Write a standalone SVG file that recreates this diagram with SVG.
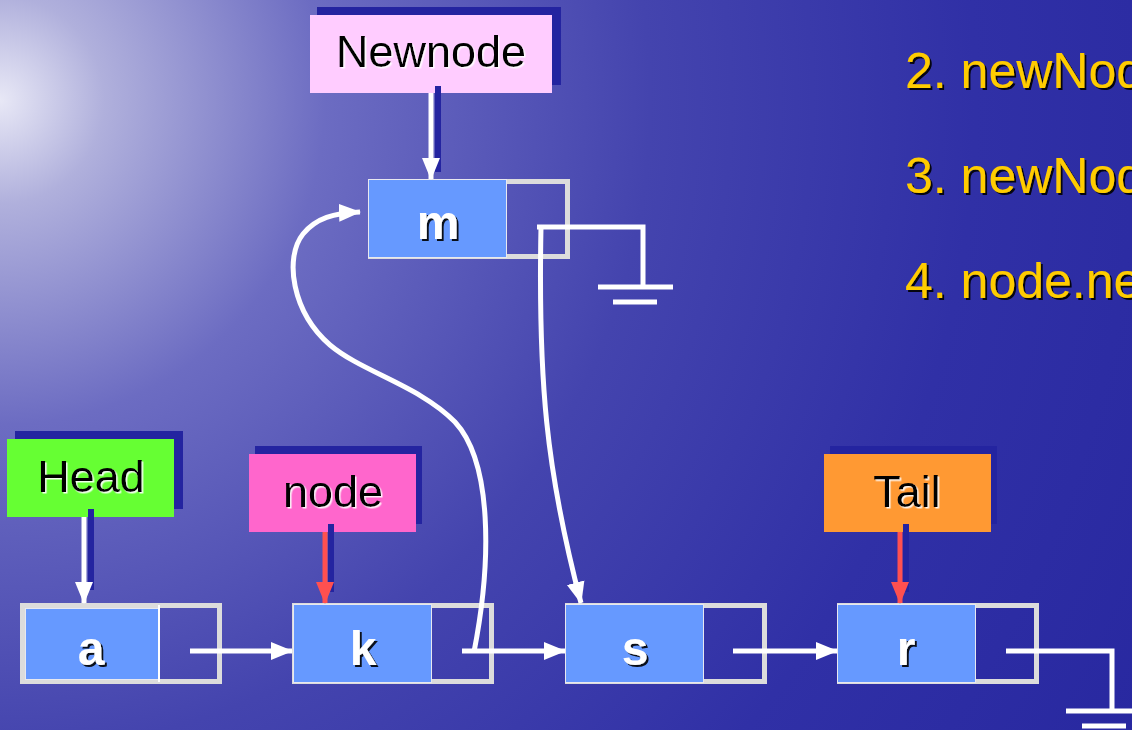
<svg xmlns="http://www.w3.org/2000/svg" width="1132" height="730" viewBox="0 0 1132 730">
<defs>
<radialGradient id="bg" cx="0" cy="100" r="1300" gradientUnits="userSpaceOnUse">
<stop offset="0" stop-color="#e8e8f6"/>
<stop offset="0.08" stop-color="#b0b0dc"/>
<stop offset="0.25" stop-color="#6c6cc2"/>
<stop offset="0.5" stop-color="#4444ae"/>
<stop offset="0.75" stop-color="#3030a6"/>
<stop offset="1" stop-color="#2828a0"/>
</radialGradient>
<marker id="wa" markerUnits="userSpaceOnUse" markerWidth="22" markerHeight="22" refX="21" refY="11" orient="auto" viewBox="0 0 22 22">
<path d="M0,2 L22,11 L0,20 z" fill="#ffffff"/>
</marker>
<marker id="ra" markerUnits="userSpaceOnUse" markerWidth="22" markerHeight="22" refX="21" refY="11" orient="auto" viewBox="0 0 22 22">
<path d="M0,2 L22,11 L0,20 z" fill="#ff5050"/>
</marker>
<filter id="ts" x="-20%" y="-20%" width="140%" height="140%">
<feDropShadow dx="2" dy="2" stdDeviation="0.6" flood-color="#000000" flood-opacity="0.9"/>
</filter>
<filter id="tw" x="-20%" y="-20%" width="140%" height="140%">
<feDropShadow dx="1.5" dy="1.5" stdDeviation="0.6" flood-color="#ffffff" flood-opacity="0.9"/>
</filter>
</defs>
<style>
.outer{fill:none;stroke:#dcdcdc;stroke-width:5}
.data{fill:#6699ff;stroke:#e8e8f0;stroke-width:1}
.val{font-family:"Liberation Sans",Arial,sans-serif;font-weight:bold;font-size:48px;fill:#ffffff;text-anchor:middle}
.lbl{font-family:"Liberation Sans",Arial,sans-serif;font-size:45px;fill:#000000;text-anchor:middle}
.shadow{fill:#2424a0}
.wl{fill:none;stroke:#ffffff;stroke-width:5}
.rl{fill:none;stroke:#ff5050;stroke-width:5}
.sl{fill:none;stroke:#2424a0;stroke-width:6}
.step{font-family:"Liberation Sans",Arial,sans-serif;font-size:50px;fill:#ffcc00}
</style>
<rect x="0" y="0" width="1132" height="730" fill="url(#bg)"/>

<g id="steps" filter="url(#ts)">
<text class="step" x="905" y="88">2. newNode</text>
<text class="step" x="905" y="193">3. newNode</text>
<text class="step" x="905" y="298">4. node.ne</text>
</g>

<g id="label-newnode">
<rect class="shadow" x="317" y="7" width="244" height="78"/>
<rect x="310" y="15" width="242" height="78" fill="#ffccff"/>
<text class="lbl" x="431" y="67" filter="url(#tw)">Newnode</text>
</g>
<g id="label-head">
<rect class="shadow" x="15" y="431" width="168" height="78"/>
<rect x="7" y="439" width="167" height="78" fill="#66ff33"/>
<text class="lbl" x="91" y="492" filter="url(#tw)">Head</text>
</g>
<g id="label-node">
<rect class="shadow" x="255" y="446" width="167" height="78"/>
<rect x="249" y="454" width="167" height="78" fill="#ff66cc"/>
<text class="lbl" x="333" y="507" filter="url(#tw)">node</text>
</g>
<g id="label-tail">
<rect class="shadow" x="830" y="446" width="167" height="78"/>
<rect x="824" y="454" width="167" height="78" fill="#ff9933"/>
<text class="lbl" x="907" y="507" filter="url(#tw)">Tail</text>
</g>

<g id="node-m">
<rect class="outer" x="370.500" y="181.500" width="197" height="75"/>
<rect class="data" x="368.500" y="179.500" width="138" height="78"/>
<text class="val" x="438" y="239" filter="url(#ts)">m</text>
</g>
<g id="node-a">
<rect class="outer" x="22.500" y="605.500" width="197" height="76"/>
<rect class="data" x="25.500" y="608.500" width="133" height="71"/>
<line x1="159" y1="605" x2="159" y2="682" stroke="#ffffff" stroke-width="2"/>
<text class="val" x="91" y="665" filter="url(#ts)">a</text>
</g>
<g id="node-k">
<rect class="outer" x="294.500" y="605.500" width="197" height="76"/>
<rect class="data" x="293.500" y="604.500" width="138" height="78"/>
<text class="val" x="363" y="665" filter="url(#ts)">k</text>
</g>
<g id="node-s">
<rect class="outer" x="567.500" y="605.500" width="197" height="76"/>
<rect class="data" x="565.500" y="604.500" width="138" height="78"/>
<text class="val" x="635" y="665" filter="url(#ts)">s</text>
</g>
<g id="node-r">
<rect class="outer" x="839.500" y="605.500" width="197" height="76"/>
<rect class="data" x="837.500" y="604.500" width="138" height="78"/>
<text class="val" x="906" y="665" filter="url(#ts)">r</text>
</g>

<g id="connectors">
<line class="sl" x1="438" y1="86" x2="438" y2="172"/>
<line class="sl" x1="91" y1="509" x2="91" y2="590"/>
<line class="sl" x1="331" y1="524" x2="331" y2="592"/>
<line class="sl" x1="906" y1="524" x2="906" y2="592"/>
<line class="wl" x1="431" y1="93" x2="431" y2="179" marker-end="url(#wa)"/>
<line class="wl" x1="84" y1="517" x2="84" y2="603" marker-end="url(#wa)"/>
<line class="rl" x1="325" y1="532" x2="325" y2="603" marker-end="url(#ra)"/>
<line class="rl" x1="900" y1="532" x2="900" y2="603" marker-end="url(#ra)"/>
<line class="wl" x1="190" y1="651" x2="292" y2="651" marker-end="url(#wa)"/>
<line class="wl" x1="462" y1="651" x2="565" y2="651" marker-end="url(#wa)"/>
<line class="wl" x1="733" y1="651" x2="837" y2="651" marker-end="url(#wa)"/>
<path class="wl" d="M474,652 C492,560 492,462 455,422 C420,386 362,372 330,345 C292,312 284,258 303,234 C316,218 334,213 360,212" marker-end="url(#wa)"/>
<path class="wl" d="M541,227 C538,380 546,470 581,603" marker-end="url(#wa)"/>
<polyline class="wl" points="537,227 643,227 643,287"/>
<line class="wl" x1="598" y1="287" x2="673" y2="287"/>
<line class="wl" x1="613" y1="302" x2="657" y2="302"/>
<polyline class="wl" points="1006,651 1112,651 1112,711"/>
<line class="wl" x1="1066" y1="711" x2="1132" y2="711"/>
<line class="wl" x1="1082" y1="726" x2="1126" y2="726"/>
</g>
</svg>
